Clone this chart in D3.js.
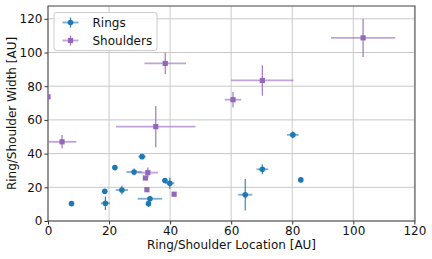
<!DOCTYPE html>
<html>
<head>
<meta charset="utf-8">
<script src="https://cdn.jsdelivr.net/npm/d3@7"></script>
<style>
  body { margin: 0; background: #fff; }
  svg { font-family: "DejaVu Sans", sans-serif; }
</style>
</head>
<body>
<div id="chart"></div>
<script>
// rings: location, width and their errors (AU)
const ringLoc      = [7.7, 18.6, 18.8, 21.9, 24.2, 28.2, 30.8, 32.9, 33.4, 38.3, 39.9, 64.6, 70.2, 80.2, 82.8];
const ringWidth    = [10.3, 17.6, 10.5, 31.7, 18.4, 29.1, 38.2, 10.3, 13.2, 24.0, 22.4, 15.6, 30.7, 51.1, 24.4];
const ringLocErr   = [0, 0, 1.5, 0, 2, 2.5, 1.2, 0, 4, 0, 1.5, 2.3, 1.9, 1.9, 0];
const ringWidthErr = [0, 0, 4, 0, 2.5, 2, 0, 2, 1.5, 0, 3.3, 9.3, 3, 2, 1.5];

// shoulders
const shLoc      = [0.0, 4.6, 32.7, 31.9, 32.4, 35.3, 38.4, 41.3, 60.6, 70.2, 103.2];
const shWidth    = [73.7, 47, 28.7, 25.5, 18.6, 56, 93.5, 15.9, 72, 83.4, 108.7];
const shLocErr   = [0, 4.7, 3.3, 0, 0, 13, 6.8, 0, 2.7, 10.2, 10.5];
const shWidthErr = [0, 4, 3, 0, 0, 12.3, 6.3, 0, 4.5, 9, 11.3];

const xTicks = [0, 20, 40, 60, 80, 100, 120];
const yTicks = [0, 20, 40, 60, 80, 100, 120];

const W = 432, H = 259;
const margin = {top: 6, right: 17, bottom: 38, left: 48};
const width = W - margin.left - margin.right,
      height = H - margin.top - margin.bottom;

const blue = "#1f77b4", purple = "#9467bd";
const fs = 12;

const svg = d3.select("#chart").append("svg")
    .attr("width", W)
    .attr("height", H);

const g = svg.append("g")
    .attr("transform", "translate(" + margin.left + "," + margin.top + ")");

const x = d3.scaleLinear().domain([0, 120.2]).range([0, width]);
const y = d3.scaleLinear().domain([0, 127.6]).range([height, 0]);

// grid
g.append("g").selectAll("line.vg")
    .data(xTicks).enter().append("line")
    .attr("x1", d => x(d)).attr("x2", d => x(d))
    .attr("y1", 0).attr("y2", height)
    .attr("stroke", "#d4d4d4").attr("stroke-width", 1.2);
g.append("g").selectAll("line.hg")
    .data(yTicks).enter().append("line")
    .attr("y1", d => y(d)).attr("y2", d => y(d))
    .attr("x1", 0).attr("x2", width)
    .attr("stroke", "#c8c8c8").attr("stroke-width", 1);

// axes
const xAxis = g.append("g")
    .attr("transform", "translate(0," + height + ")")
    .call(d3.axisBottom(x).tickValues(xTicks).tickSize(3.5).tickPadding(2));
const yAxis = g.append("g")
    .call(d3.axisLeft(y).tickValues(yTicks).tickSize(3.5).tickPadding(2));
[xAxis, yAxis].forEach(a => {
    a.select(".domain").remove();
    a.selectAll("text").attr("font-size", fs).attr("fill", "#111").attr("font-family", "DejaVu Sans");
    a.selectAll("line").attr("stroke", "#333");
});

// frame
g.append("rect")
    .attr("width", width).attr("height", height)
    .attr("fill", "none").attr("stroke", "#444").attr("stroke-width", 1);

svg.append("defs").append("clipPath").attr("id", "clip")
    .append("rect").attr("width", width).attr("height", height);

const plot = g.append("g").attr("clip-path", "url(#clip)");

function drawSeries(locs, widths, locErr, widthErr, color, shape) {
    const data = locs.map((d, i) => ({x: d, y: widths[i], xe: locErr[i], ye: widthErr[i]}));
    const s = plot.append("g");
    s.selectAll("line.xe").data(data.filter(d => d.xe > 0)).enter().append("line")
        .attr("x1", d => x(d.x - d.xe)).attr("x2", d => x(d.x + d.xe))
        .attr("y1", d => y(d.y)).attr("y2", d => y(d.y))
        .attr("stroke", color).attr("stroke-opacity", 0.6).attr("stroke-width", 1.8);
    s.selectAll("line.ye").data(data.filter(d => d.ye > 0)).enter().append("line")
        .attr("x1", d => x(d.x)).attr("x2", d => x(d.x))
        .attr("y1", d => y(d.y - d.ye)).attr("y2", d => y(d.y + d.ye))
        .attr("stroke", color).attr("stroke-opacity", 0.9).attr("stroke-width", 1.2);
    if (shape === "circle") {
        s.selectAll("circle").data(data).enter().append("circle")
            .attr("cx", d => x(d.x)).attr("cy", d => y(d.y)).attr("r", 2.8)
            .attr("fill", color);
    } else {
        s.selectAll("rect").data(data).enter().append("rect")
            .attr("x", d => x(d.x) - 2.6).attr("y", d => y(d.y) - 2.6)
            .attr("width", 5.2).attr("height", 5.2)
            .attr("fill", color);
    }
}

drawSeries(ringLoc, ringWidth, ringLocErr, ringWidthErr, blue, "circle");
drawSeries(shLoc, shWidth, shLocErr, shWidthErr, purple, "square");

// legend
const leg = g.append("g").attr("transform", "translate(6,6.5)");
leg.append("rect")
    .attr("width", 103).attr("height", 38).attr("rx", 2.5)
    .attr("fill", "#fff").attr("fill-opacity", 0.8)
    .attr("stroke", "#ccc").attr("stroke-width", 1);
const items = [{label: "Rings", color: blue, shape: "circle"}, {label: "Shoulders", color: purple, shape: "square"}];
items.forEach((it, i) => {
    const cy = 10 + i * 18, cx = 16.5;
    leg.append("line").attr("x1", cx - 8).attr("x2", cx + 8).attr("y1", cy).attr("y2", cy)
        .attr("stroke", it.color).attr("stroke-opacity", 0.6).attr("stroke-width", 1.8);
    leg.append("line").attr("x1", cx).attr("x2", cx).attr("y1", cy - 5).attr("y2", cy + 5)
        .attr("stroke", it.color).attr("stroke-opacity", 0.9).attr("stroke-width", 1.2);
    if (it.shape === "circle") {
        leg.append("circle").attr("cx", cx).attr("cy", cy).attr("r", 2.8).attr("fill", it.color);
    } else {
        leg.append("rect").attr("x", cx - 2.6).attr("y", cy - 2.6).attr("width", 5.2).attr("height", 5.2).attr("fill", it.color);
    }
    leg.append("text").attr("x", 38.5).attr("y", cy + 4.3)
        .attr("font-size", fs).attr("fill", "#111").text(it.label);
});

// axis labels
svg.append("text")
    .attr("x", margin.left + width / 2).attr("y", H - 10)
    .attr("text-anchor", "middle").attr("font-size", fs).attr("fill", "#111")
    .text("Ring/Shoulder Location [AU]");
svg.append("text")
    .attr("transform", "translate(16," + (margin.top + height / 2) + ") rotate(-90)")
    .attr("text-anchor", "middle").attr("font-size", fs).attr("fill", "#111")
    .text("Ring/Shoulder Width [AU]");
</script>
</body>
</html>
